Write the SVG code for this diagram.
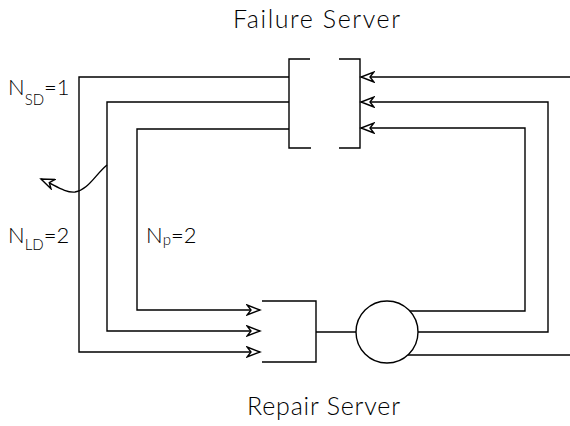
<svg xmlns="http://www.w3.org/2000/svg" width="570" height="426" viewBox="0 0 570 426">
<defs>
<style>
.ln{fill:none;stroke:#000;stroke-width:1.4}
.t{font-family:"Lato","DejaVu Sans",sans-serif;font-weight:300;fill:#000}
.big{font-size:25px}
.lab{font-size:22px}
.sub{font-size:15px;fill:#000}
</style>
<marker id="ah" markerWidth="16" markerHeight="12" refX="14" refY="6" orient="auto" markerUnits="userSpaceOnUse">
<path d="M1,1 L14,6 L1,11 L5,6 Z" fill="#fff" stroke="#000" stroke-width="1.4"/>
</marker>
</defs>
<rect width="570" height="426" fill="#fff"/>

<g id="failure-server">
<path class="ln" d="M310,59 H289 V148 H311 M339,148 H360 V59 H339"/>
<text class="t big" x="233" y="28" textLength="167" lengthAdjust="spacing">Failure Server</text>
</g>

<g id="repair-server">
<path class="ln" d="M262,301 H316 V362 H262"/>
<circle class="ln" cx="387" cy="332" r="31"/>
<text class="t big" x="247" y="415" textLength="153" lengthAdjust="spacing">Repair Server</text>
</g>

<g id="labels">
<text class="t lab" x="8" y="95">N<tspan class="sub" dy="10">SD</tspan><tspan dy="-10">=1</tspan></text>
<text class="t lab" x="8" y="243">N<tspan class="sub" dy="7">LD</tspan><tspan dy="-7">=2</tspan></text>
<text class="t lab" x="146" y="243">N<tspan class="sub" dy="2">p</tspan><tspan dy="-2">=2</tspan></text>
</g>

<g id="connectors">
<path class="ln" d="M289,77 H79 V352 H260" marker-end="url(#ah)"/>
<path class="ln" d="M289,102 H107 V331 H260" marker-end="url(#ah)"/>
<path class="ln" d="M289,129 H137 V310 H260" marker-end="url(#ah)"/>
<path class="ln" d="M570,77 H361" marker-end="url(#ah)"/>
<path class="ln" d="M418,332 H548 V102 H361" marker-end="url(#ah)"/>
<path class="ln" d="M410,311 H525 V128 H361" marker-end="url(#ah)"/>
<path class="ln" d="M408,355 H570"/>
<path class="ln" d="M316,332 H356"/>
<path class="ln" d="M107,165 C95,175 88,190 75,192 C65,193 55,185 41,179" marker-end="url(#ah)"/>
</g>
</svg>
